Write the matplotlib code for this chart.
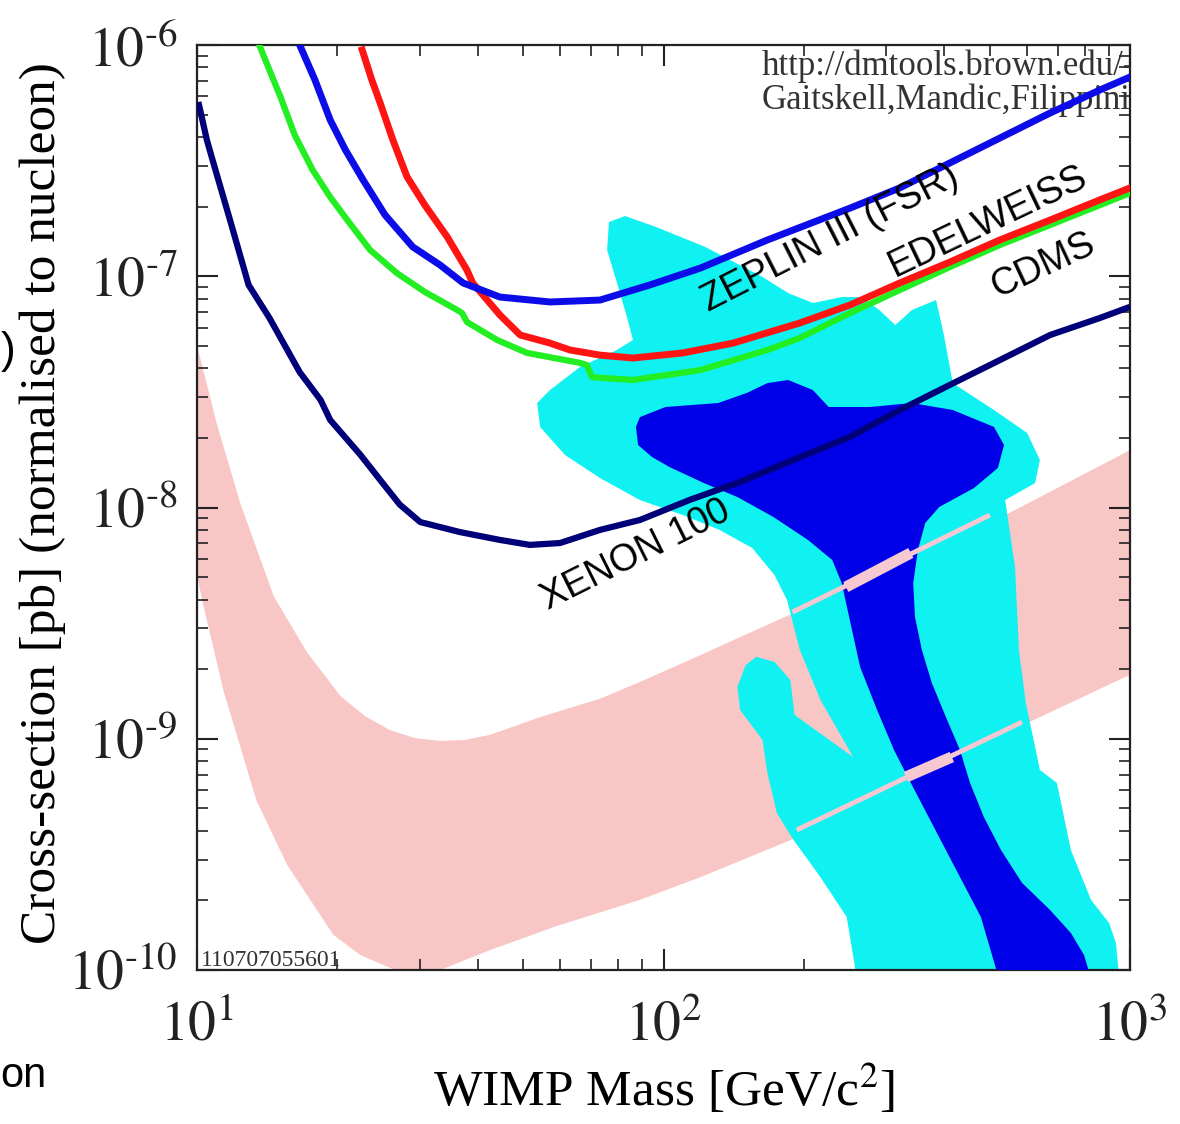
import matplotlib
matplotlib.use('Agg')
import matplotlib.pyplot as plt
from matplotlib.ticker import LogLocator, NullFormatter, FixedLocator

plt.rcParams['font.family'] = ['Liberation Serif', 'DejaVu Serif']
plt.rcParams['mathtext.fontset'] = 'stix'

# ---------------------------------
# limit curves: WIMP mass [GeV], cross-section [pb]
# ---------------------------------
xenon_m = [10.1, 10.5, 10.8, 11.8, 12.9, 14.3, 16.6, 18.4, 19.3, 22.4, 24.7, 27.2, 30.1,
           36.6, 44.6, 51.7, 60.0, 73.1, 89.0, 114, 146, 196, 251, 321, 411, 526, 674,
           862, 985]
xenon_s = [5.50e-7, 3.88e-7, 3.18e-7, 1.72e-7, 9.17e-8, 6.60e-8, 3.85e-8, 2.92e-8,
           2.39e-8, 1.69e-8, 1.315e-8, 1.03e-8, 8.65e-9, 7.83e-9, 7.24e-9, 6.89e-9,
           7.02e-9, 8.0e-9, 8.83e-9, 1.08e-8, 1.29e-8, 1.65e-8, 2.02e-8, 2.64e-8,
           3.39e-8, 4.34e-8, 5.57e-8, 6.60e-8, 7.29e-8]

zeplin_m = [16.6, 17.9, 19.3, 20.8, 22.7, 25.3, 29.0, 33.2, 37.2, 44.6, 57.1, 73.1, 93.5,
            120, 167, 251, 321, 411, 526, 674, 862, 1000]
zeplin_s = [1.0e-6, 7.06e-7, 4.74e-7, 3.52e-7, 2.61e-7, 1.84e-7, 1.34e-7, 1.118e-7,
            9.35e-8, 8.13e-8, 7.74e-8, 7.89e-8, 9.17e-8, 1.085e-7, 1.435e-7, 1.97e-7,
            2.41e-7, 3.09e-7, 3.96e-7, 5.08e-7, 6.39e-7, 7.27e-7]

edelweiss_m = [22.6, 23.7, 24.7, 26.3, 28.2, 30.8, 34.4, 37.9, 39.0, 44.6, 49.3, 57.1, 63.0,
               73.1, 86.0, 110, 141, 196, 251, 321, 411, 526, 674, 862, 1000]
edelweiss_s = [9.52e-7, 7.06e-7, 5.61e-7, 3.88e-7, 2.69e-7, 2.03e-7, 1.478e-7, 1.064e-7,
               9.35e-8, 6.80e-8, 5.57e-8, 5.14e-8, 4.80e-8, 4.56e-8, 4.43e-8, 4.66e-8,
               5.14e-8, 6.28e-8, 7.51e-8, 9.35e-8, 1.152e-7, 1.435e-7, 1.75e-7, 2.14e-7,
               2.41e-7]

cdms_m = [13.6, 14.3, 15.1, 16.2, 17.7, 19.3, 21.0, 23.5, 26.8, 30.8, 36.1, 37.0, 37.9,
          44.0, 51.0, 66.2, 68.5, 70.3, 86.0, 120, 167, 196, 251, 321, 411, 526, 674,
          862, 1000]
cdms_s = [1.0e-6, 7.79e-7, 5.96e-7, 4.08e-7, 2.88e-7, 2.20e-7, 1.75e-7, 1.299e-7, 1.033e-7,
          8.55e-8, 7.15e-8, 6.93e-8, 6.34e-8, 5.30e-8, 4.66e-8, 4.22e-8, 4.13e-8, 3.66e-8,
          3.56e-8, 3.93e-8, 4.80e-8, 5.41e-8, 6.93e-8, 8.72e-8, 1.096e-7, 1.365e-7,
          1.666e-7, 2.03e-7, 2.29e-7]

# ---------------------------------
# theory band (pink)
# ---------------------------------
band_hi_m = [10, 11.0, 12.4, 14.6, 17.2, 20.3, 22.9, 25.9, 29.3, 33.2, 37.5, 42.5, 54.4,
             73.1, 89.0, 120, 180, 251, 321, 567, 1000]
band_hi_s = [5.04e-8, 2.34e-8, 1.035e-8, 4.14e-9, 2.37e-9, 1.53e-9, 1.254e-9, 1.09e-9,
             1.007e-9, 9.78e-10, 9.88e-10, 1.04e-9, 1.24e-9, 1.49e-9, 1.76e-9, 2.30e-9,
             3.33e-9, 4.40e-9, 5.53e-9, 9.75e-9, 1.77e-8]
band_lo_m = [10, 10.3, 11.4, 13.4, 15.6, 19.6, 22.4, 27.2, 33.2, 42.5, 59.1, 89.0, 120, 190,
             321, 608, 1000]
band_lo_s = [5.10e-9, 3.83e-9, 1.61e-9, 5.43e-10, 2.85e-10, 1.42e-10, 1.16e-10, 9.8e-11,
             1.0e-10, 1.22e-10, 1.55e-10, 2.01e-10, 2.52e-10, 3.69e-10, 6.0e-10, 1.18e-9,
             1.89e-9]

# ---------------------------------
# allowed regions (2 sigma cyan, 1 sigma blue)
# ---------------------------------
cyan_m = [76.4, 82.7, 96.4, 123, 139, 163, 185, 209, 241, 266, 290, 314, 341, 384, 399, 417,
          511, 602, 641, 626, 540, 567, 578, 598, 641, 697, 747, 825, 902, 933, 947, 259,
          247, 217, 190, 175, 167, 163, 146, 144, 150, 158, 173, 187, 191, 255, 217, 196,
          184, 173, 155, 132, 110, 89.0, 73.1, 61.5, 54.4, 53.6, 57.1, 66.2, 79.5, 86.0,
          83.5, 79.5, 75.7]
cyan_s = [1.716e-7, 1.822e-7, 1.633e-7, 1.338e-7, 1.175e-7, 9.93e-8, 8.46e-8, 7.66e-8,
          8.13e-8, 8.13e-8, 7.15e-8, 6.15e-8, 7.15e-8, 7.89e-8, 5.57e-8, 3.45e-8, 2.64e-8,
          2.10e-8, 1.604e-8, 1.276e-8, 1.077e-8, 5.53e-9, 2.42e-9, 1.428e-9, 7.33e-10,
          6.44e-10, 3.30e-10, 2.01e-10, 1.596e-10, 1.308e-10, 9.5e-11, 9.5e-11, 1.695e-10,
          2.52e-10, 3.65e-10, 4.77e-10, 7.11e-10, 9.88e-10, 1.331e-9, 1.674e-9, 2.08e-9,
          2.26e-9, 2.15e-9, 1.795e-9, 1.267e-9, 8.34e-10, 1.471e-9, 2.42e-9, 3.98e-9,
          5.10e-9, 6.68e-9, 7.99e-9, 9.28e-9, 1.077e-8, 1.341e-8, 1.687e-8, 2.23e-8,
          2.83e-8, 3.22e-8, 4.05e-8, 4.80e-8, 5.30e-8, 6.66e-8, 9.35e-8, 1.299e-7]

blue_m = [87.3, 89.0, 101, 131, 151, 167, 185, 209, 226, 277, 341, 417, 511, 537, 521, 463,
          390, 364, 351, 343, 346, 358, 376, 403, 432, 454, 486, 529, 587, 674, 747, 797,
          821, 521, 479, 403, 339, 312, 287, 264, 250, 241, 230, 204, 172, 144, 122, 103,
          94.5, 88.2]
blue_s = [2.23e-8, 2.46e-8, 2.72e-8, 2.83e-8, 3.13e-8, 3.45e-8, 3.56e-8, 3.22e-8, 2.72e-8,
          2.72e-8, 2.83e-8, 2.64e-8, 2.23e-8, 1.864e-8, 1.482e-8, 1.214e-8, 1.005e-8,
          8.57e-9, 6.55e-9, 4.71e-9, 3.36e-9, 2.42e-9, 1.742e-9, 1.242e-9, 8.94e-10,
          6.44e-10, 4.59e-10, 3.30e-10, 2.38e-10, 1.817e-10, 1.445e-10, 1.161e-10, 9.5e-11,
          9.5e-11, 1.695e-10, 3.30e-10, 6.44e-10, 8.94e-10, 1.331e-9, 2.04e-9, 3.36e-9,
          4.71e-9, 5.93e-9, 7.24e-9, 9.10e-9, 1.110e-8, 1.276e-8, 1.496e-8, 1.653e-8,
          1.864e-8]

# benchmark lines across the allowed region
line_a_m = [189, 501]
line_a_s = [3.53e-9, 9.28e-9]
line_a_thick_m = [246, 339]
line_a_thick_s = [4.53e-9, 6.36e-9]
line_b_m = [193, 587]
line_b_s = [4.03e-10, 1.181e-9]
line_b_thick_m = [331, 415]
line_b_thick_s = [6.83e-10, 8.34e-10]

xticks = [10, 100, 1000]
xtick_labels = [r'$10^{1}$', r'$10^{2}$', r'$10^{3}$']
yticks = [1e-10, 1e-9, 1e-8, 1e-7, 1e-6]
ytick_labels = [r'$10^{\text{-}10}$', r'$10^{\text{-}9}$', r'$10^{\text{-}8}$',
                r'$10^{\text{-}7}$', r'$10^{\text{-}6}$']

W, H = 1180, 1124
fig = plt.figure(figsize=(W / 100, H / 100), dpi=100)
ax = fig.add_axes([197 / W, (H - 970) / H, (1130 - 197) / W, (970 - 45) / H])
ax.set_xscale('log')
ax.set_yscale('log')

pink = '#f9c6c6'
ax.fill(band_hi_m + band_lo_m[::-1], band_hi_s + band_lo_s[::-1], color=pink, lw=0, zorder=1)
ax.fill(cyan_m, cyan_s, color='#10f2f2', lw=0, zorder=2)
ax.fill(blue_m, blue_s, color='#0000e8', lw=0, zorder=3)

dash = '#f5c8d2'
ax.plot(line_a_m, line_a_s, color=dash, lw=3.5, solid_capstyle='butt', zorder=4)
ax.plot(line_a_thick_m, line_a_thick_s, color=dash, lw=8, solid_capstyle='butt', zorder=4)
ax.plot(line_b_m, line_b_s, color=dash, lw=3.5, solid_capstyle='butt', zorder=4)
ax.plot(line_b_thick_m, line_b_thick_s, color=dash, lw=8, solid_capstyle='butt', zorder=4)

ax.plot(xenon_m, xenon_s, color='#000078', lw=4.5, zorder=6, solid_joinstyle='round')
ax.plot(cdms_m, cdms_s, color='#22ee22', lw=4.5, zorder=6, solid_joinstyle='round')
ax.plot(edelweiss_m, edelweiss_s, color='#ff1414', lw=5, zorder=6, solid_joinstyle='round')
ax.plot(zeplin_m, zeplin_s, color='#0c0ce8', lw=5, zorder=6, solid_joinstyle='round')

ax.set_xlim(10, 1000)
ax.set_ylim(1e-10, 1e-6)

ax.xaxis.set_major_locator(FixedLocator(xticks))
ax.set_xticklabels(xtick_labels)
ax.yaxis.set_major_locator(FixedLocator(yticks))
ax.set_yticklabels(ytick_labels)
ax.xaxis.set_minor_locator(LogLocator(base=10, subs=range(2, 10), numticks=20))
ax.yaxis.set_minor_locator(LogLocator(base=10, subs=range(2, 10), numticks=20))
ax.xaxis.set_minor_formatter(NullFormatter())
ax.yaxis.set_minor_formatter(NullFormatter())

ax.tick_params(which='both', direction='in', top=True, right=True, colors='#222222')
ax.tick_params(which='major', length=15, width=1.5, labelsize=40)
ax.tick_params(which='minor', length=8, width=1.2)
ax.tick_params(axis='x', which='major', pad=22)
ax.tick_params(axis='y', which='major', pad=14)
for sp in ax.spines.values():
    sp.set_linewidth(1.6)
    sp.set_color('#222222')

ax.set_xlabel('WIMP Mass [GeV/c$^{2}$]', fontsize=37)
ax.xaxis.set_label_coords(0.5, -0.1)
ax.set_ylabel('Cross-section [pb] (normalised to nucleon)', fontsize=37)
ax.yaxis.set_label_coords(-0.14, 0.505)

# credit lines in the corner, cut off by the frame
ax.text(0.6056, 0.9676, 'http://dmtools.brown.edu/-', transform=ax.transAxes, fontsize=25,
        color='#333333', clip_on=True, zorder=5)
ax.text(0.6056, 0.931, 'Gaitskell,Mandic,Filippini', transform=ax.transAxes, fontsize=25,
        color='#333333', clip_on=True, zorder=5)
ax.text(0.004, 0.004, '110707055601', transform=ax.transAxes, fontsize=17,
        color='#333333', zorder=5)

lab = dict(fontsize=27, family='Liberation Sans', ha='left', va='baseline',
           rotation_mode='anchor', zorder=7, color='black')
ax.text(124.6, 7.0e-8, 'ZEPLIN III (FSR)', rotation=27, **lab)
ax.text(313.5, 9.93e-8, 'EDELWEISS', rotation=25.5, **lab)
ax.text(518.7, 8.05e-8, 'CDMS', rotation=25, **lab)
ax.text(56.5, 3.6e-9, 'XENON 100', rotation=26.5, **lab)

# fragments of neighbouring slide text
fig.text(0.001, (H - 352) / H, ')', fontsize=32, family='Liberation Sans', va='center')
fig.text(0.0, (H - 1087) / H, 'on', fontsize=30, family='Liberation Sans', va='baseline')

fig.savefig('out.png', dpi=100)
